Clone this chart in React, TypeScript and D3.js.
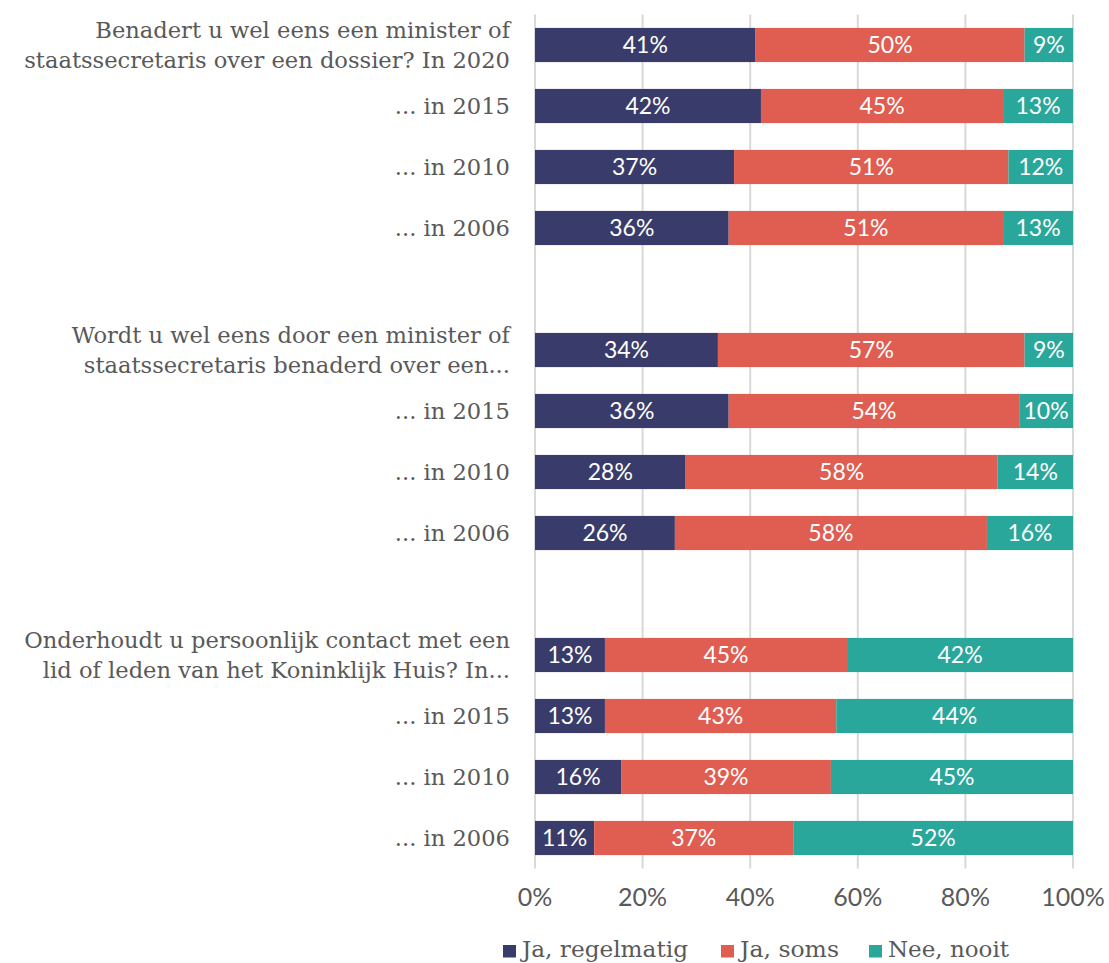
import React from "react";
import * as d3 from "d3";

const rowLabels: string[][] = [
  ["Benadert u wel eens een minister of", "staatssecretaris over een dossier? In 2020"],
  ["... in 2015"],
  ["... in 2010"],
  ["... in 2006"],
  [],
  ["Wordt u wel eens door een minister of", "staatssecretaris benaderd over een..."],
  ["... in 2015"],
  ["... in 2010"],
  ["... in 2006"],
  [],
  ["Onderhoudt u persoonlijk contact met een", "lid of leden van het Koninklijk Huis? In..."],
  ["... in 2015"],
  ["... in 2010"],
  ["... in 2006"],
];

const regelmatig: (number | null)[] = [41, 42, 37, 36, null, 34, 36, 28, 26, null, 13, 13, 16, 11];
const soms: (number | null)[] = [50, 45, 51, 51, null, 57, 54, 58, 58, null, 45, 43, 39, 37];
const nooit: (number | null)[] = [9, 13, 12, 13, null, 9, 10, 14, 16, null, 42, 44, 45, 52];

const seriesNames = ["Ja, regelmatig", "Ja, soms", "Nee, nooit"];
const seriesColors = ["#393c6a", "#df5d51", "#2aa79b"];
const ticks = [0, 20, 40, 60, 80, 100];

export default function App() {
  const W = 1109;
  const H = 963;
  const x0 = 535;
  const x1 = 1073;
  const yTop = 14.5;
  const yBot = 868.5;

  const x = d3.scaleLinear().domain([0, 100]).range([x0, x1]);
  const idx = rowLabels.map((_, i) => String(i));
  const y = d3.scaleBand().domain(idx).range([yTop, yBot]).paddingInner(0.44).paddingOuter(0.22);

  const all = [regelmatig, soms, nooit];
  const labelFont = "'DejaVu Serif', serif";
  const numFont = "Lato, sans-serif";

  const legendX = [503, 721, 869];
  const legendW = [166, 99, 121];

  return (
    <svg width={W} height={H} style={{ position: "absolute", left: 0, top: 0, background: "#fff" }}>
      {ticks.map((t) => (
        <line key={"g" + t} x1={x(t)} x2={x(t)} y1={yTop} y2={yBot} stroke="#d9d9d9" strokeWidth={2} />
      ))}
      {idx.map((k, i) => {
        if (regelmatig[i] == null) return null;
        let acc = 0;
        const yy = y(k)!;
        const bh = y.bandwidth();
        return (
          <g key={"r" + k}>
            {all.map((s, si) => {
              const v = s[i] as number;
              const start = acc;
              acc += v;
              return (
                <g key={si}>
                  <rect x={x(start)} y={yy} width={x(start + v) - x(start)} height={bh} fill={seriesColors[si]} />
                  <text
                    x={(x(start) + x(start + v)) / 2}
                    y={yy + bh / 2}
                    dy="0.36em"
                    textAnchor="middle"
                    fill="#fff"
                    fontFamily={numFont}
                    fontSize={23}
                  >
                    {v}%
                  </text>
                </g>
              );
            })}
          </g>
        );
      })}
      {idx.map((k, i) => {
        const lines = rowLabels[i];
        if (!lines.length) return null;
        const cy = y(k)! + y.bandwidth() / 2;
        const lh = 30;
        const startY = cy - ((lines.length - 1) * lh) / 2;
        return (
          <text key={"l" + k} textAnchor="end" fill="#595959" fontFamily={labelFont} fontSize={22.6}>
            {lines.map((ln, li) => (
              <tspan key={li} x={510} y={startY + li * lh} dy="0.36em">
                {ln}
              </tspan>
            ))}
          </text>
        );
      })}
      {ticks.map((t) => (
        <text key={"t" + t} x={x(t)} y={897} dy="0.36em" textAnchor="middle" fill="#595959" fontFamily={numFont} fontSize={25}>
          {t}%
        </text>
      ))}
      {seriesNames.map((n, i) => (
        <g key={"lg" + i}>
          <rect x={legendX[i]} y={945} width={13} height={12.5} fill={seriesColors[i]} />
          <text
            x={legendX[i] + 19}
            y={957}
            fill="#595959"
            fontFamily={labelFont}
            fontSize={23}
            textLength={legendW[i]}
            lengthAdjust="spacingAndGlyphs"
          >
            {n}
          </text>
        </g>
      ))}
    </svg>
  );
}
